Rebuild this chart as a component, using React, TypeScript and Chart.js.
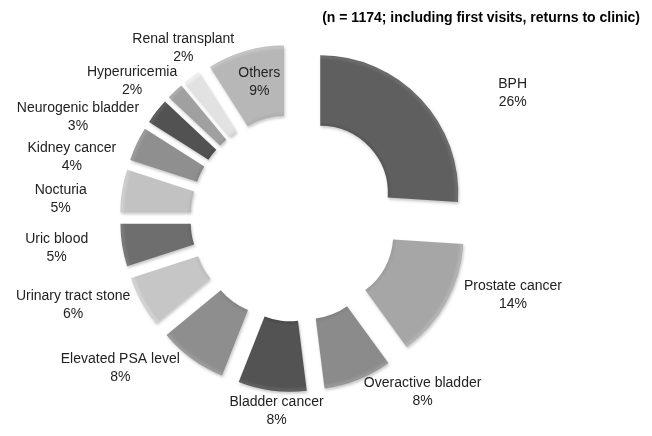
import React, { useEffect, useRef } from "react";
import { Chart, DoughnutController, ArcElement } from "chart.js";

Chart.register(DoughnutController, ArcElement);

const categories = [
  "BPH",
  "Prostate cancer",
  "Overactive bladder",
  "Bladder cancer",
  "Elevated PSA level",
  "Urinary tract stone",
  "Uric blood",
  "Nocturia",
  "Kidney cancer",
  "Neurogenic bladder",
  "Hyperuricemia",
  "Renal transplant",
  "Others",
];
const percentages = [26, 14, 8, 8, 8, 6, 5, 5, 4, 3, 2, 2, 9];
const titleText = "(n = 1174; including first visits, returns to clinic)";
const insideLabels = ["Others"];

// styles (kept separate from data)
const sliceColors = [
  "#5f5f5f",
  "#a6a6a6",
  "#8b8b8b",
  "#535353",
  "#8e8e8e",
  "#c6c6c6",
  "#6e6e6e",
  "#c2c2c2",
  "#8f8f8f",
  "#525252",
  "#a0a0a0",
  "#e2e2e2",
  "#b7b7b7",
];
const labelNudges: [number, number][] = [
  [59, 25],
  [27, -28],
  [48, -29],
  [10, -24],
  [-45, -27],
  [-29, -18],
  [-21, -4],
  [-17, 15],
  [-24, 32],
  [-43, 33],
  [-12, 23],
  [18, 7],
  [4, -3],
];
const EXPLODE = 36;
const LABEL_GAP = 45;
const FONT = 'Arial, "Liberation Sans", sans-serif';

function shade(hex: string, amt: number) {
  const n = parseInt(hex.slice(1), 16);
  const c = (v: number) => Math.max(0, Math.min(255, v + amt));
  const r = c((n >> 16) & 255), g = c((n >> 8) & 255), b = c(n & 255);
  return `rgb(${r},${g},${b})`;
}

const explodePlugin = {
  id: "explode",
  beforeDatasetDraw(chart: any, args: any) {
    const ctx = chart.ctx as CanvasRenderingContext2D;
    args.meta.data.forEach((arc: any) => {
      const mid = (arc.startAngle + arc.endAngle) / 2;
      ctx.save();
      ctx.translate(Math.cos(mid) * EXPLODE, Math.sin(mid) * EXPLODE);
      ctx.shadowColor = "rgba(0,0,0,0.22)";
      ctx.shadowBlur = 3;
      ctx.shadowOffsetX = 1;
      ctx.shadowOffsetY = 2;
      arc.draw(ctx);
      ctx.restore();
    });
    return false;
  },
};

const labelPlugin = {
  id: "sliceLabels",
  afterDatasetsDraw(chart: any) {
    const ctx = chart.ctx as CanvasRenderingContext2D;
    const meta = chart.getDatasetMeta(0);
    ctx.save();
    ctx.font = `14px ${FONT}`;
    ctx.fillStyle = "#222";
    ctx.textAlign = "center";
    ctx.textBaseline = "middle";
    meta.data.forEach((arc: any, i: number) => {
      const mid = (arc.startAngle + arc.endAngle) / 2;
      const inside = insideLabels.includes(categories[i]);
      const dist = inside
        ? EXPLODE + (arc.innerRadius + arc.outerRadius) / 2
        : EXPLODE + arc.outerRadius + LABEL_GAP;
      const x = arc.x + Math.cos(mid) * dist + labelNudges[i][0];
      const y = arc.y + Math.sin(mid) * dist + labelNudges[i][1];
      ctx.fillText(categories[i], x, y - 9);
      ctx.fillText(`${percentages[i]}%`, x, y + 9);
    });
    ctx.font = `bold 14px ${FONT}`;
    ctx.fillStyle = "#000";
    ctx.textAlign = "right";
    ctx.fillText(titleText, 640, 18);
    ctx.restore();
  },
};

export default function App() {
  const ref = useRef<HTMLCanvasElement | null>(null);
  useEffect(() => {
    if (!ref.current) return;
    const chart = new Chart(ref.current, {
      type: "doughnut",
      data: {
        labels: categories,
        datasets: [
          {
            data: percentages,
            borderWidth: 0,
            backgroundColor: (c: any) => {
              const base = sliceColors[c.dataIndex % sliceColors.length];
              const area = c.chart.chartArea;
              if (!area) return base;
              const cx = (area.left + area.right) / 2;
              const cy = (area.top + area.bottom) / 2;
              const R = Math.min(area.right - area.left, area.bottom - area.top) / 2;
              const r = R * 0.49;
              const g = c.chart.ctx.createRadialGradient(cx, cy, r, cx, cy, R);
              g.addColorStop(0, shade(base, -10));
              g.addColorStop(0.06, base);
              g.addColorStop(0.93, base);
              g.addColorStop(0.98, shade(base, 14));
              g.addColorStop(1, shade(base, 4));
              return g;
            },
          },
        ],
      },
      options: {
        responsive: false,
        devicePixelRatio: 1,
        animation: false,
        events: [],
        cutout: "49%",
        layout: { padding: { left: 156, top: 80, right: 220, bottom: 80 } },
        plugins: { legend: { display: false }, tooltip: { enabled: false } },
      } as any,
      plugins: [explodePlugin, labelPlugin],
    });
    return () => chart.destroy();
  }, []);
  return (
    <div style={{ position: "absolute", left: 0, top: 0, width: 652, height: 436, background: "#fff" }}>
      <canvas ref={ref} width={652} height={436} style={{ width: 652, height: 436, display: "block" }} />
    </div>
  );
}
